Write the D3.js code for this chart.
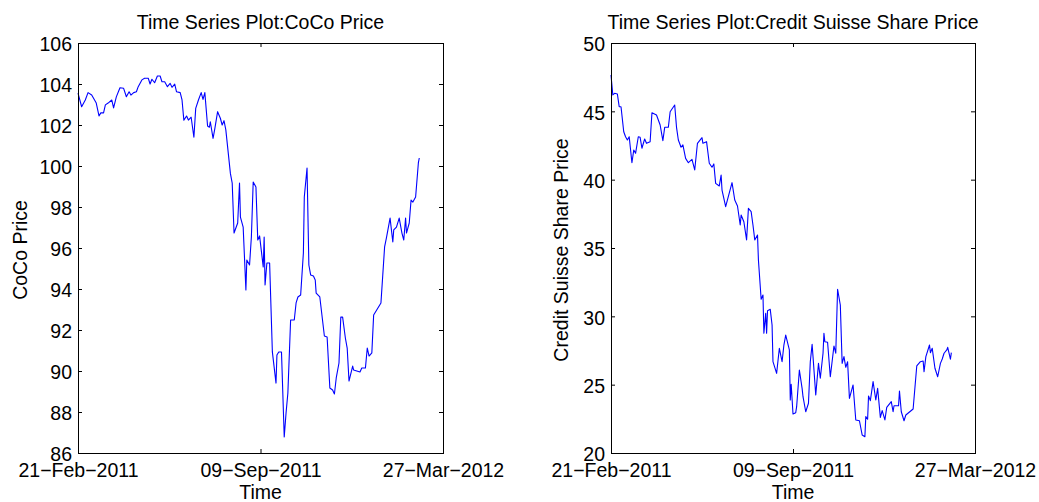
<!DOCTYPE html>
<html>
<head>
<meta charset="utf-8">
<script src="https://cdn.jsdelivr.net/npm/d3@7"></script>
<style>
  html, body { margin: 0; padding: 0; background: #fff; }
  svg { display: block; }
  text { font-family: "Liberation Sans", Arial, Helvetica, sans-serif; fill: #000; }
</style>
</head>
<body>
<svg id="chart" width="1039" height="502"></svg>
<script>
// ---- Data (days since 21-Feb-2011) ----
const startDate = "2011-02-21";
const endDate = "2012-03-27";
const tickDates = ["2011-02-21", "2011-09-09", "2012-03-27"];

const cocoDays = [0,4,8,11,15,20,23,25,28,30,33,37,39,42,46,50,53,56,58,61,64,66,70,73,77,79,81,84,87,90,92,95,98,101,103,106,108,112,114,116,119,121,124,127,129,132,135,137,139,142,144,145,148,150,153,156,158,160,162,167,169,171,175,177,178,181,184,185,188,190,192,195,197,199,203,204,205,207,210,213,217,218,220,223,226,228,230,233,237,239,241,244,247,248,251,253,255,258,260,261,265,270,273,276,279,281,283,286,288,290,293,295,297,301,302,309,311,315,317,319,322,324,332,336,338,342,345,346,349,352,355,357,359,360,363,365,367,370,373,374];
const cocoPrice = [103.55,102.89,103.22,103.58,103.46,103.07,102.44,102.59,102.59,102.98,103.07,103.22,102.83,103.37,103.82,103.79,103.38,103.62,103.46,103.58,103.62,103.87,104.20,104.28,104.28,104.00,104.23,104.06,104.39,104.39,104.11,104.11,103.87,104.03,103.84,103.99,103.62,103.58,103.22,102.24,102.44,102.24,102.38,101.40,102.81,103.22,103.58,103.25,103.58,101.95,101.89,102.16,101.35,101.84,102.65,102.33,102.00,102.21,101.76,99.64,99.16,96.73,97.22,99.17,97.51,97.02,93.95,95.41,95.17,96.54,99.22,98.98,96.39,96.59,95.07,96.54,94.20,95.27,95.27,90.93,89.41,90.78,90.93,90.93,86.78,87.95,88.93,92.49,92.49,93.32,93.61,93.71,95.76,98.49,99.90,95.17,94.68,94.63,94.44,93.80,93.61,91.71,91.66,89.17,89.07,88.88,89.66,90.39,92.63,92.63,91.61,91.12,89.51,90.24,90.05,89.95,90.15,90.15,91.12,90.73,90.88,92.73,93.32,96.05,96.49,97.46,96.29,96.88,97.02,97.46,96.73,96.39,97.46,96.73,97.22,98.34,98.24,98.49,100.15,100.39];

const csDays = [0,2,4,7,9,11,14,16,18,20,23,25,27,30,32,34,37,39,43,45,50,54,57,59,63,65,70,72,74,77,79,82,85,89,92,95,100,101,105,108,111,113,115,119,121,122,126,133,136,139,142,143,146,149,151,154,156,158,161,162,165,167,168,170,171,172,175,177,178,182,185,188,190,192,196,197,198,200,203,204,207,210,211,214,217,219,221,222,225,228,230,233,234,235,238,241,245,247,249,252,254,256,258,260,262,266,269,273,276,279,280,282,283,285,288,291,293,296,298,301,303,308,310,311,316,317,319,322,324,332,336,340,343,344,346,350,351,353,356,359,362,364,366,369,370,373,374];
const csPrice = [47.66,46.20,46.32,46.27,45.34,45.34,43.51,43.14,42.90,43.14,41.24,42.17,41.93,43.14,43.10,42.30,42.98,42.66,42.78,44.90,44.73,44.00,42.85,43.83,43.83,44.97,45.46,43.83,42.90,42.37,42.54,41.56,41.24,41.49,40.71,42.66,43.07,42.66,42.78,41.20,40.91,41.15,39.73,39.54,40.34,39.24,38.02,39.78,38.51,38.07,36.68,37.41,36.92,35.59,37.90,37.66,36.68,35.59,35.95,34.12,31.25,31.56,28.76,30.22,28.76,30.41,30.51,29.37,26.68,25.83,27.66,26.68,27.90,28.63,27.54,23.88,25.03,22.85,22.95,23.39,26.07,24.73,24.12,23.02,23.64,26.68,27.95,27.05,24.24,26.56,25.47,27.30,28.76,28.14,28.10,25.58,27.83,27.30,31.98,30.83,26.56,27.05,26.27,26.68,24.00,24.98,22.42,22.36,21.32,21.19,22.66,22.47,24.17,23.83,25.22,23.88,24.73,22.61,23.10,22.42,23.34,23.76,23.02,23.46,23.46,24.54,23.02,22.36,22.78,23.22,26.37,26.68,26.73,25.95,27.05,27.90,27.34,27.66,26.20,25.58,26.56,26.88,27.30,27.54,27.73,26.86,27.34];

const cocoTicks = [86,88,90,92,94,96,98,100,102,104,106];
const csTicks = [20,25,30,35,40,45,50];

const titles = ["Time Series Plot:CoCo Price", "Time Series Plot:Credit Suisse Share Price"];
const yLabels = ["CoCo Price", "Credit Suisse Share Price"];
const xLabel = "Time";

// ---- Drawing ----
const parse = d3.utcParse("%Y-%m-%d");
const t0 = parse(startDate), t1 = parse(endDate);
const fmt = d3.utcFormat("%d-%b-%Y");
const tickFmt = d => fmt(d).replace(/-/g, "\u2212");
const FONT = 19.5;

const svg = d3.select("#chart");

function panel(opts) {
  const { left, top, width, height, days, values, yDomain, yTicks, title, ylab, ylabX } = opts;
  const g = svg.append("g").attr("transform", `translate(${left},${top})`);
  const x = d3.scaleUtc().domain([t0, t1]).range([0, width]);
  const y = d3.scaleLinear().domain(yDomain).range([height, 0]);
  const tv = tickDates.map(parse);

  // line
  const pts = days.map((d, i) => ({ date: d3.utcDay.offset(t0, d), v: values[i] }));
  g.append("path")
    .datum(pts)
    .attr("fill", "none")
    .attr("stroke", "#0000ff")
    .attr("stroke-width", 1.1)
    .attr("stroke-linejoin", "round")
    .attr("d", d3.line().x(d => x(d.date)).y(d => y(d.v)));

  // axes (inward ticks, mirrored)
  const styleAxis = sel => {
    sel.select(".domain").remove();
    sel.selectAll(".tick line").attr("stroke", "#000").attr("stroke-width", 1);
    sel.selectAll("text").style("font-size", FONT + "px")
      .style("font-family", '"Liberation Sans", Arial, sans-serif').attr("fill", "#000");
  };
  g.append("g").attr("transform", `translate(0,${height})`)
    .call(d3.axisBottom(x).tickValues(tv).tickFormat(tickFmt).tickSizeInner(-4).tickSizeOuter(0).tickPadding(10.5))
    .call(styleAxis);
  g.append("g")
    .call(d3.axisTop(x).tickValues(tv).tickFormat("").tickSizeInner(-4).tickSizeOuter(0))
    .call(styleAxis);
  const la = g.append("g")
    .call(d3.axisLeft(y).tickValues(yTicks).tickFormat(d3.format("d")).tickSizeInner(-4).tickSizeOuter(0).tickPadding(6))
    .call(styleAxis);
  la.selectAll("text").attr("dy", "0.4em");
  g.append("g").attr("transform", `translate(${width},0)`)
    .call(d3.axisRight(y).tickValues(yTicks).tickFormat("").tickSizeInner(-4).tickSizeOuter(0))
    .call(styleAxis);

  // box
  g.append("rect").attr("x", 0.5).attr("y", 0.5).attr("width", width).attr("height", height)
    .attr("fill", "none").attr("stroke", "#000").attr("stroke-width", 1);

  // title
  g.append("text").attr("x", width / 2).attr("y", -14)
    .attr("text-anchor", "middle").style("font-size", FONT + "px").text(title);
  // x label
  g.append("text").attr("x", width / 2).attr("y", height + 46)
    .attr("text-anchor", "middle").style("font-size", FONT + "px").text(xLabel);
  // y label
  g.append("text")
    .attr("transform", `translate(${ylabX - left},${height / 2 + 2}) rotate(-90)`)
    .attr("text-anchor", "middle").style("font-size", FONT + "px").text(ylab);
}

panel({ left: 78, top: 43, width: 365, height: 410, days: cocoDays, values: cocoPrice,
  yDomain: [86, 106], yTicks: cocoTicks, title: titles[0], ylab: yLabels[0], ylabX: 27 });
panel({ left: 611, top: 43, width: 364, height: 410, days: csDays, values: csPrice,
  yDomain: [20, 50], yTicks: csTicks, title: titles[1], ylab: yLabels[1], ylabX: 568 });
</script>
</body>
</html>
